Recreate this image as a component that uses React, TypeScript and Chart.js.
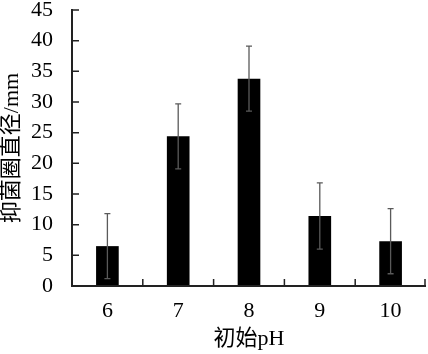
import React, { useEffect, useRef } from "react";
import { Chart, registerables } from "chart.js";

Chart.register(...registerables);

const categories = ["6", "7", "8", "9", "10"];
const means = [6.5, 24.4, 33.8, 11.4, 7.3];
const errors = [5.3, 5.3, 5.3, 5.4, 5.3];
const yTicks = [0, 5, 10, 15, 20, 25, 30, 35, 40, 45];
const xTitle = "初始pH";
const yTitle = "抑菌圈直径/mm";

const FONT = "'Liberation Serif', 'Noto Sans CJK SC', serif";

const errorBarPlugin = {
  id: "errorBars",
  afterDatasetsDraw(chart: any) {
    const meta = chart.getDatasetMeta(0);
    const y = chart.scales.y;
    const ctx = chart.ctx;
    ctx.save();
    ctx.strokeStyle = "#5a5a5a";
    ctx.lineWidth = 1.3;
    meta.data.forEach((el: any, i: number) => {
      const x = el.x;
      const top = y.getPixelForValue(means[i] + errors[i]);
      const bot = y.getPixelForValue(means[i] - errors[i]);
      ctx.beginPath();
      ctx.moveTo(x, top);
      ctx.lineTo(x, bot);
      ctx.moveTo(x - 3, top);
      ctx.lineTo(x + 3, top);
      ctx.moveTo(x - 3, bot);
      ctx.lineTo(x + 3, bot);
      ctx.stroke();
    });
    ctx.restore();
  },
};

const axesPlugin = {
  id: "inwardAxes",
  afterDraw(chart: any) {
    const { ctx, chartArea } = chart;
    const xs = chart.scales.x;
    const ys = chart.scales.y;
    const left = chartArea.left;
    const bottom = chartArea.bottom;
    const right = chartArea.right;
    ctx.save();
    ctx.strokeStyle = "#222";
    ctx.lineWidth = 2;
    ctx.beginPath();
    ctx.moveTo(left, ys.getPixelForValue(yTicks[yTicks.length - 1]) - 1);
    ctx.lineTo(left, bottom);
    ctx.lineTo(right, bottom);
    ctx.stroke();
    ctx.lineWidth = 1.5;
    ctx.beginPath();
    yTicks.forEach((v) => {
      const py = ys.getPixelForValue(v);
      ctx.moveTo(left, py);
      ctx.lineTo(left + 7, py);
    });
    for (let i = 0; i < categories.length; i++) {
      const a = xs.getPixelForValue(i);
      const b = i + 1 < categories.length ? xs.getPixelForValue(i + 1) : a + (a - xs.getPixelForValue(i - 1));
      const px = Math.min((a + b) / 2, right - 1);
      ctx.moveTo(px, bottom);
      ctx.lineTo(px, bottom - 7);
    }
    ctx.stroke();
    ctx.restore();
  },
};

export default function App() {
  const ref = useRef<HTMLCanvasElement>(null);
  useEffect(() => {
    document.body.style.margin = "0";
    const chart = new Chart(ref.current!, {
      type: "bar",
      data: {
        labels: categories,
        datasets: [
          {
            data: means,
            backgroundColor: "#000",
            borderWidth: 0,
            categoryPercentage: 1,
            barPercentage: 0.32,
          },
        ],
      },
      options: {
        animation: false,
        responsive: false,
        maintainAspectRatio: false,
        layout: { padding: { top: 10, right: 2, left: 0, bottom: 0 } },
        plugins: { legend: { display: false }, tooltip: { enabled: false } },
        scales: {
          x: {
            grid: { display: false },
            border: { display: false },
            ticks: {
              color: "#000",
              font: { family: FONT, size: 22 },
              padding: 4,
              maxRotation: 0,
            },
            title: {
              display: true,
              text: xTitle,
              color: "#000",
              font: { family: FONT, size: 22, lineHeight: 0.8 },
              padding: { top: 0, bottom: 6 },
            },
            afterFit(scale: any) {
              scale.height = 68;
              scale.paddingLeft = 0;
              scale.paddingRight = 0;
            },
          },
          y: {
            min: 0,
            max: 45,
            grid: { display: false },
            border: { display: false },
            afterBuildTicks(scale: any) {
              scale.ticks = yTicks.map((v) => ({ value: v }));
            },
            ticks: {
              color: "#000",
              font: { family: FONT, size: 22 },
              padding: 11,
            },
            title: {
              display: true,
              text: yTitle,
              color: "#000",
              font: { family: FONT, size: 22, lineHeight: 1 },
              padding: { top: 1, bottom: 0 },
            },
            afterFit(scale: any) {
              scale.width = 72;
              scale.paddingTop = 0;
              scale.paddingBottom = 0;
            },
          },
        },
      },
      plugins: [errorBarPlugin, axesPlugin],
    });
    return () => chart.destroy();
  }, []);
  return <canvas ref={ref} width={428} height={354} style={{ display: "block" }} />;
}
